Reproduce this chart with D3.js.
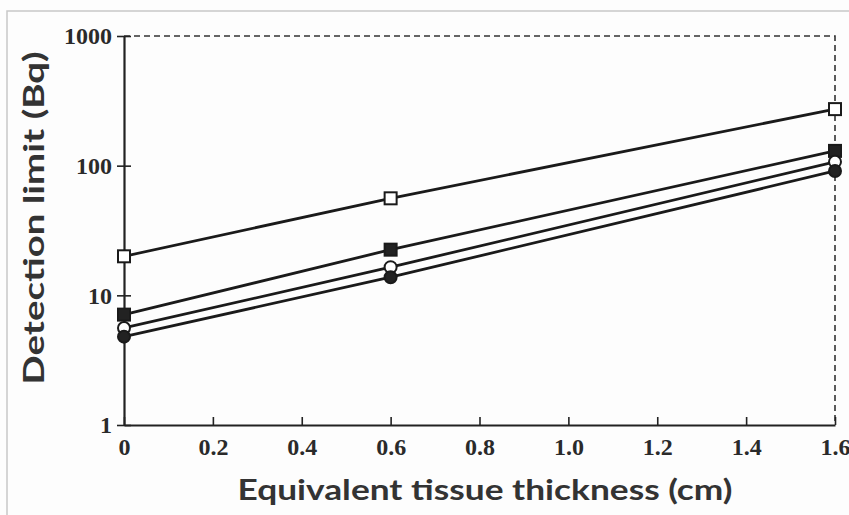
<!DOCTYPE html>
<html><head><meta charset="utf-8">
<script src="https://cdn.jsdelivr.net/npm/d3@7/dist/d3.min.js"></script>
<style>body{margin:0;background:#fdfdfd}svg{display:block}</style>
</head><body>
<svg id="c" width="849" height="515"></svg>
<script>
const thickness = [0, 0.6, 1.6];
const openSquare = [20, 56, 273];
const filledSquare = [7.1, 22.5, 130];
const openCircle = [5.6, 16.5, 107];
const filledCircle = [4.8, 13.8, 91];
const xTicks = [0, 0.2, 0.4, 0.6, 0.8, 1.0, 1.2, 1.4, 1.6];
const xTickLabels = ["0", "0.2", "0.4", "0.6", "0.8", "1.0", "1.2", "1.4", "1.6"];
const yTicks = [1, 10, 100, 1000];
const yTickLabels = ["1", "10", "100", "1000"];

const svg = d3.select("#c");
const x = d3.scaleLinear().domain([0, 1.6]).range([124, 835]);
const y = d3.scaleLog().domain([1, 1000]).range([425, 36]);

svg.append("path").attr("d", "M7,515 V11 H849").attr("fill", "none").attr("stroke", "#c8c8c8").attr("stroke-width", 1.5);

svg.append("path").attr("d", `M${x(0)},${y(1000)} H${x(1.6)} V${y(1)}`)
  .attr("fill", "none").attr("stroke", "#333").attr("stroke-width", 1.6).attr("stroke-dasharray", "6,4");

const xAxis = d3.axisBottom(x).tickValues(xTicks).tickSizeInner(-8).tickSizeOuter(0)
  .tickFormat((d, i) => xTickLabels[i]).tickPadding(17);
const gx = svg.append("g").attr("transform", `translate(0,${y(1)})`).call(xAxis);
gx.select(".domain").attr("stroke", "#222").attr("stroke-width", 2.2);
gx.selectAll(".tick line").attr("stroke", "#222").attr("stroke-width", 1.6);
gx.selectAll(".tick text").attr("font-family", "Liberation Serif, serif").attr("font-size", 24)
  .attr("fill", "#2a2a2a").attr("font-weight", "bold").attr("dy", "0.55em");

const yAxis = d3.axisLeft(y).tickValues(yTicks).tickSizeInner(7).tickSizeOuter(0)
  .tickFormat((d, i) => yTickLabels[i]).tickPadding(5);
const gy = svg.append("g").attr("transform", `translate(${x(0)},0)`).call(yAxis);
gy.select(".domain").attr("stroke", "#222").attr("stroke-width", 2.2);
gy.selectAll(".tick line").attr("stroke", "#222").attr("stroke-width", 1.6).attr("x2", -7).attr("x1", 7);
gy.selectAll(".tick text").attr("font-family", "Liberation Serif, serif").attr("font-size", 24)
  .attr("fill", "#2a2a2a").attr("font-weight", "bold");

svg.append("text").attr("x", 485).attr("y", 500).attr("text-anchor", "middle")
  .attr("font-family", "Lato, sans-serif").attr("font-weight", "bold").attr("font-size", 28)
  .attr("fill", "#333").attr("textLength", 495).attr("lengthAdjust", "spacingAndGlyphs")
  .text("Equivalent tissue thickness (cm)");
svg.append("text").attr("transform", "translate(44,218) rotate(-90)").attr("text-anchor", "middle")
  .attr("font-family", "Lato, sans-serif").attr("font-weight", "bold").attr("font-size", 28)
  .attr("fill", "#333").attr("textLength", 333).attr("lengthAdjust", "spacingAndGlyphs")
  .text("Detection limit (Bq)");

const series = [
  {v: openSquare, shape: "square", fill: "#fff"},
  {v: filledSquare, shape: "square", fill: "#222"},
  {v: openCircle, shape: "circle", fill: "#fff"},
  {v: filledCircle, shape: "circle", fill: "#222"}
];
const line = d3.line().x((d, i) => x(thickness[i])).y(d => y(d));
series.forEach(s => {
  svg.append("path").datum(s.v).attr("d", line).attr("fill", "none")
    .attr("stroke", "#1a1a1a").attr("stroke-width", 2.8);
});
series.forEach(s => {
  const g = svg.append("g");
  if (s.shape === "square") {
    g.selectAll("rect").data(s.v).join("rect")
      .attr("x", (d, i) => x(thickness[i]) - 6).attr("y", d => y(d) - 6)
      .attr("width", 12).attr("height", 12)
      .attr("fill", s.fill).attr("stroke", "#1a1a1a").attr("stroke-width", 2);
  } else {
    g.selectAll("circle").data(s.v).join("circle")
      .attr("cx", (d, i) => x(thickness[i])).attr("cy", d => y(d)).attr("r", 6)
      .attr("fill", s.fill).attr("stroke", "#1a1a1a").attr("stroke-width", 2);
  }
});
</script>
</body></html>
